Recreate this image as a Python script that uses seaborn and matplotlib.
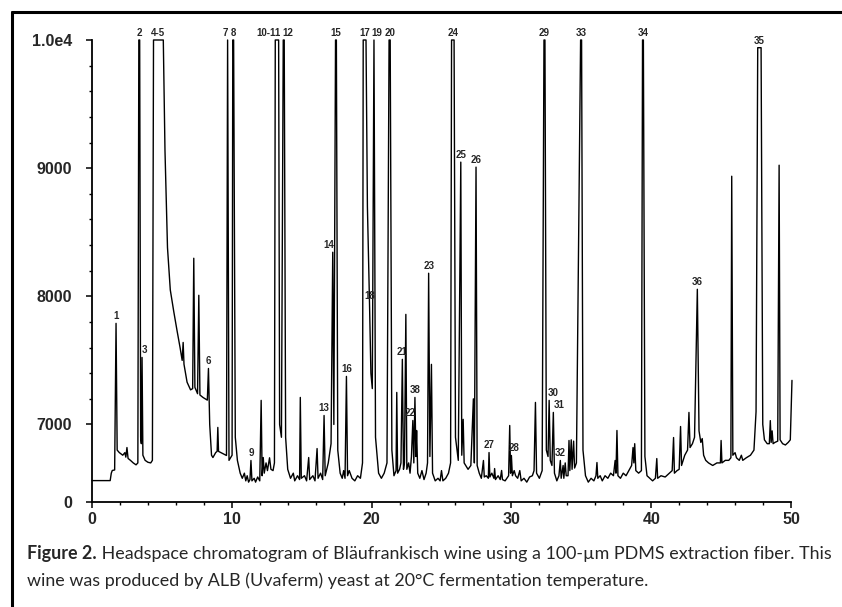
import numpy as np
import pandas as pd
import matplotlib
matplotlib.use('Agg')
import matplotlib.pyplot as plt
from matplotlib.lines import Line2D
from matplotlib.ticker import FixedLocator, MultipleLocator
import seaborn as sns

# trace: retention time (min) and abundance
ret_time = [
    0.00, 1.30, 1.38, 1.45, 1.62, 1.72, 1.80, 1.95, 2.20, 2.35, 2.42, 2.50, 2.58, 2.75, 2.95, 3.15,
    3.28, 3.35, 3.41, 3.48, 3.53, 3.58, 3.64, 3.80, 4.00, 4.20, 4.32, 4.40, 5.10, 5.22, 5.40, 5.60,
    5.85, 6.08, 6.30, 6.45, 6.52, 6.58, 6.80, 7.05, 7.20, 7.28, 7.36, 7.55, 7.64, 7.72, 7.95, 8.25,
    8.33, 8.42, 8.55, 8.65, 8.85, 8.95, 9.00, 9.05, 9.40, 9.62, 9.70, 9.80, 10.02, 10.07, 10.13, 10.25,
    10.40, 10.60, 10.75, 10.90, 11.00, 11.10, 11.20, 11.30, 11.37, 11.44, 11.60, 11.70, 11.85, 12.00, 12.10, 12.17,
    12.25, 12.32, 12.45, 12.55, 12.70, 12.80, 12.95, 13.05, 13.11, 13.35, 13.42, 13.55, 13.68, 13.75, 13.85, 14.00,
    14.20, 14.40, 14.50, 14.70, 14.85, 14.90, 14.97, 15.20, 15.35, 15.50, 15.57, 15.80, 15.95, 16.10, 16.17, 16.35,
    16.50, 16.60, 16.68, 16.90, 17.10, 17.22, 17.30, 17.42, 17.48, 17.58, 17.75, 17.90, 18.00, 18.10, 18.20, 18.28,
    18.40, 18.60, 18.80, 19.00, 19.20, 19.35, 19.40, 19.60, 19.70, 19.85, 19.95, 20.05, 20.17, 20.28, 20.50, 20.70,
    20.90, 21.10, 21.25, 21.33, 21.45, 21.60, 21.75, 21.80, 21.86, 22.00, 22.10, 22.20, 22.28, 22.35, 22.45, 22.52,
    22.65, 22.75, 22.85, 22.95, 23.02, 23.10, 23.17, 23.22, 23.30, 23.45, 23.60, 23.75, 23.90, 24.00, 24.08, 24.17,
    24.28, 24.36, 24.55, 24.75, 24.90, 25.00, 25.10, 25.30, 25.50, 25.65, 25.72, 25.90, 26.00, 26.20, 26.38, 26.45,
    26.55, 26.62, 26.90, 27.10, 27.28, 27.35, 27.47, 27.55, 27.70, 27.85, 28.00, 28.06, 28.20, 28.35, 28.40, 28.46,
    28.60, 28.75, 28.80, 28.86, 29.05, 29.20, 29.30, 29.36, 29.55, 29.80, 29.88, 29.94, 30.00, 30.07, 30.20, 30.30,
    30.45, 30.60, 30.70, 30.90, 31.10, 31.30, 31.50, 31.62, 31.72, 31.80, 32.00, 32.20, 32.33, 32.40, 32.50, 32.62,
    32.70, 32.78, 32.90, 33.00, 33.08, 33.25, 33.40, 33.50, 33.56, 33.70, 33.75, 33.85, 33.92, 34.05, 34.12, 34.18,
    34.28, 34.34, 34.45, 34.52, 34.65, 34.95, 35.02, 35.12, 35.30, 35.50, 35.70, 35.90, 36.05, 36.12, 36.18, 36.35,
    36.50, 36.70, 36.90, 37.10, 37.30, 37.42, 37.48, 37.55, 37.62, 37.80, 38.00, 38.20, 38.40, 38.60, 38.70, 38.76,
    38.82, 38.90, 39.10, 39.30, 39.38, 39.44, 39.55, 39.70, 39.90, 40.10, 40.30, 40.40, 40.46, 40.70, 41.00, 41.30,
    41.50, 41.60, 41.66, 41.85, 42.00, 42.10, 42.17, 42.40, 42.60, 42.70, 42.78, 42.95, 43.10, 43.30, 43.42, 43.55,
    43.65, 43.75, 43.90, 44.10, 44.40, 44.70, 44.95, 45.00, 45.06, 45.30, 45.55, 45.70, 45.76, 45.84, 46.00, 46.10,
    46.30, 46.45, 46.55, 46.80, 47.10, 47.35, 47.50, 47.62, 47.86, 47.98, 48.10, 48.30, 48.45, 48.52, 48.58, 48.65,
    48.72, 48.85, 49.05, 49.15, 49.22, 49.40, 49.60, 49.80, 49.95, 50.07,
]
abundance = [
    6562, 6562, 6620, 6641, 6645, 7789, 6800, 6781, 6760, 6780, 6745, 6820, 6735, 6720, 6700, 6685,
    6700, 10000, 10000, 6900, 6850, 7523, 6760, 6720, 6705, 6700, 6720, 10000, 10000, 9140, 8380, 8050,
    7880, 7734, 7600, 7500, 7640, 7470, 7330, 7270, 7280, 8297, 7290, 7240, 8008, 7230, 7210, 7190,
    7437, 7000, 6760, 6742, 6781, 6790, 6977, 6790, 6770, 6758, 10000, 6720, 6760, 10000, 10000, 6900,
    6720, 6620, 6580, 6620, 6560, 6600, 6550, 6570, 6719, 6560, 6580, 6550, 6590, 6560, 7188, 6600,
    6742, 6620, 6700, 6640, 6740, 6650, 6640, 6700, 10000, 10000, 7000, 6900, 10000, 10000, 6900, 6650,
    6580, 6620, 6560, 6600, 6570, 7211, 6580, 6600, 6560, 6742, 6570, 6600, 6560, 6812, 6580, 6620,
    6570, 7070, 6600, 6700, 6850, 8344, 7000, 10000, 10000, 6800, 6620, 6580, 6640, 6580, 7375, 6600,
    6640, 6580, 6560, 6600, 6580, 6700, 10000, 10000, 8700, 7950, 7400, 7280, 10000, 6900, 6620, 6580,
    6620, 6700, 10000, 10000, 6800, 6600, 6640, 7250, 6620, 6650, 6700, 7508, 6650, 6700, 7859, 6650,
    6700, 6620, 6750, 7031, 6700, 7211, 6750, 6953, 6620, 6580, 6640, 6570, 6620, 6700, 8180, 6750,
    7469, 6620, 6560, 6580, 6560, 6640, 6560, 6580, 6620, 6700, 10000, 10000, 6900, 6720, 9047, 6760,
    7040, 6700, 6650, 6680, 7200, 6700, 9008, 6680, 6620, 6580, 6719, 6590, 6600, 6580, 6781, 6590,
    6620, 6580, 6656, 6570, 6600, 6570, 6641, 6570, 6560, 6600, 6992, 6620, 6758, 6600, 6640, 6600,
    6580, 6640, 6560, 6580, 6550, 6590, 6600, 6640, 7172, 6620, 6580, 6640, 10000, 10000, 6800, 6750,
    7188, 6720, 6680, 7094, 6620, 6560, 6600, 6719, 6580, 6680, 6580, 6700, 6600, 6600, 6875, 6640,
    6880, 6650, 6870, 6660, 6700, 10000, 10000, 6800, 6600, 6550, 6580, 6560, 6600, 6703, 6580, 6600,
    6560, 6600, 6580, 6620, 6600, 6719, 6620, 6953, 6600, 6580, 6620, 6600, 6640, 6680, 6820, 6700,
    6850, 6640, 6620, 6640, 10000, 10000, 6750, 6600, 6580, 6560, 6580, 6734, 6580, 6600, 6590, 6620,
    6640, 6898, 6620, 6640, 6650, 6984, 6680, 6760, 6800, 7094, 6820, 6850, 6900, 8055, 6950, 6860,
    6890, 6760, 6720, 6700, 6680, 6700, 6700, 6875, 6700, 6720, 6720, 6740, 8937, 6760, 6780, 6740,
    6720, 6760, 6720, 6740, 6760, 6800, 7100, 9940, 9940, 7000, 6880, 6850, 6850, 7030, 6860, 6950,
    6850, 6860, 6870, 9023, 6880, 6850, 6840, 6860, 6880, 7344,
]

# numbered peaks
label_text = ['1', '2', '3', '4-5', '6', '7', '8', '9', '10-11', '12', '13', '14', '15', '16', '17', '18',
              '19', '20', '21', '22', '38', '23', '24', '25', '26', '27', '28', '29', '30', '31', '32', '33',
              '34', '36', '35']
label_time = [1.72, 3.38, 3.58, 4.75, 8.33, 9.70, 10.10, 11.37, 13.23, 13.72, 16.60, 17.22, 17.45, 18.20, 19.50, 19.85,
              20.17, 21.29, 22.20, 22.95, 23.10, 24.08, 25.81, 26.38, 27.47, 28.40, 30.00, 32.37, 32.70, 33.00, 33.50, 34.98,
              39.41, 43.30, 47.74]
label_top = [7789, 10000, 7523, 10000, 7437, 10000, 10000, 6719, 10000, 10000, 7070, 8344, 10000, 7375, 10000, 7950,
             10000, 10000, 7508, 7031, 7211, 8180, 10000, 9047, 9008, 6781, 6758, 10000, 7188, 7094, 6719, 10000,
             10000, 8055, 9940]

y_ticks = [0, 7000, 8000, 9000, 10000]
y_tick_labels = ['0', '7000', '8000', '9000', '1.0e4']
y_minor = [7200, 7400, 7600, 7800, 8200, 8400, 8600, 8800, 9200, 9400, 9600, 9800]
x_ticks = [0, 10, 20, 30, 40, 50]

caption_bold = 'Figure 2.'
caption_rest = ' Headspace chromatogram of Bläufrankisch wine using a 100-µm PDMS extraction fiber. This'
caption_line2 = 'wine was produced by ALB (Uvaferm) yeast at 20°C fermentation temperature.'

sns.set_style('ticks')
plt.rcParams['font.family'] = ['Liberation Sans', 'DejaVu Sans']

# broken y axis: everything under the break is squeezed into a few pixels
BREAK = 6450.0
SQUEEZE = 55.0 / 6450.0


def fwd(y):
    y = np.asarray(y, dtype=float)
    return np.where(y >= BREAK, y, BREAK - (BREAK - y) * SQUEEZE)


def inv(z):
    z = np.asarray(z, dtype=float)
    return np.where(z >= BREAK, z, BREAK - (BREAK - z) / SQUEEZE)


W, H = 842, 607
fig = plt.figure(figsize=(W / 100, H / 100), dpi=100)
fig.patch.set_facecolor('white')
ax = fig.add_axes([92 / W, 1 - 502 / H, (791 - 92) / W, (502 - 40) / H])
ax.set_yscale('function', functions=(fwd, inv))

df = pd.DataFrame({'time': ret_time, 'abundance': abundance})
sns.lineplot(data=df, x='time', y='abundance', ax=ax, color='black', lw=1.0,
             sort=False, estimator=None)
for ln in ax.lines:
    ln.set_clip_on(False)

ax.set_xlim(0, 50)
ax.set_ylim(0, 10000)
ax.set_xlabel('')
ax.set_ylabel('')

ax.set_yticks(y_ticks, y_tick_labels)
ax.yaxis.set_minor_locator(FixedLocator(y_minor))
ax.set_xticks(x_ticks)
ax.xaxis.set_minor_locator(MultipleLocator(2))
ax.tick_params(which='major', length=4.5, width=1.1, color='black', labelsize=11.5)
ax.tick_params(which='minor', length=2.5, width=1.0, color='black')
ax.tick_params(axis='y', pad=10)
ax.tick_params(axis='x', pad=3)
for lab in ax.get_xticklabels() + ax.get_yticklabels():
    lab.set_fontweight('bold')

sns.despine(ax=ax)
for side in ['left', 'bottom']:
    ax.spines[side].set_linewidth(1.3)
    ax.spines[side].set_color('black')

# small nudges so labels sit like in the print
nudge = {'3': 2, '7': -2, '10-11': -6, '12': 3, '14': -3, '19': 2, '22': -2, '28': 2, '30': 3, '31': 4}
for txt, t, top in zip(label_text, label_time, label_top):
    ax.annotate(txt, (t, top), xytext=(nudge.get(txt, 0), 1.5), textcoords='offset points',
                ha='center', va='bottom', fontsize=7, fontweight='bold',
                family=['Liberation Sans Narrow', 'Liberation Sans'], annotation_clip=False)

# frame lines of the printed figure
fig.add_artist(Line2D([12 / W, 1], [1 - 12 / H, 1 - 12 / H], transform=fig.transFigure,
                      color='black', lw=2.2))
fig.add_artist(Line2D([12 / W, 12 / W], [0, 1 - 12 / H], transform=fig.transFigure,
                      color='black', lw=2.2))

# caption, sized so the first line runs from x=27 to x=830
renderer = fig.canvas.get_renderer()
cap_font = ['Lato', 'DejaVu Sans']
probe_b = fig.text(0, 0, caption_bold, fontsize=12, fontweight='bold', family=cap_font)
probe_r = fig.text(0, 0, caption_rest, fontsize=12, family=cap_font)
w12 = probe_b.get_window_extent(renderer).width + probe_r.get_window_extent(renderer).width
probe_b.remove()
probe_r.remove()
fs = 12 * (830 - 27) / w12

y1 = 1 - 559 / H
y2 = 1 - 586 / H
tb = fig.text(27 / W, y1, caption_bold, fontsize=fs, fontweight='bold', family=cap_font, va='baseline')
bx = tb.get_window_extent(renderer).x1
fig.text(bx / W, y1, caption_rest, fontsize=fs, family=cap_font, va='baseline')
fig.text(27 / W, y2, caption_line2, fontsize=fs, family=cap_font, va='baseline')

fig.savefig('out.png', dpi=100, facecolor='white')
